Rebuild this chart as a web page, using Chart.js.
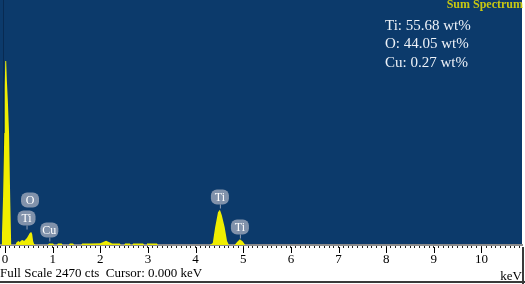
<!DOCTYPE html>
<html>
<head>
<meta charset="utf-8">
<script src="https://cdn.jsdelivr.net/npm/chart.js@4.4.0/dist/chart.umd.min.js"></script>
<style>
html, body { margin: 0; padding: 0; background: #fff; }
#wrap { width: 525px; height: 284px; }
</style>
</head>
<body>
<div id="wrap"><canvas id="chart" width="525" height="284"></canvas></div>
<script>
// spectrum (keV / counts)
var energy = [-0.07, -0.04, -0.015, -0.005, 0.005, 0.025, 0.04, 0.06, 0.085, 0.11, 0.13, 0.22,
    0.24, 0.28, 0.31, 0.34, 0.37, 0.40, 0.43, 0.46, 0.49, 0.52, 0.55, 0.57, 0.59, 0.61, 0.64,
    0.90, 0.92, 1.01, 1.03, 1.09, 1.11, 1.19, 1.21, 1.34, 1.36, 1.43, 1.45, 1.60, 1.62, 1.80,
    2.00, 2.06, 2.12, 2.18, 2.25, 2.41, 2.43, 2.50, 2.52, 2.62, 2.64, 2.67, 2.69, 2.90, 2.92,
    2.96, 2.98, 3.19, 3.21,
    4.30, 4.36, 4.41, 4.47, 4.51, 4.55, 4.61, 4.66, 4.70,
    4.82, 4.87, 4.93, 4.99, 5.04, 10.85];
var counts = [0, 500, 1130, 1600, 1855, 1855, 1650, 1450, 1130, 450, 0, 0,
    25, 40, 30, 45, 50, 40, 55, 70, 95, 120, 130, 110, 40, 10, 0,
    0, 15, 15, 0, 0, 15, 15, 0, 0, 15, 15, 0, 0, 15, 15,
    18, 30, 42, 30, 15, 15, 0, 0, 15, 15, 0, 0, 15, 15, 0,
    0, 15, 15, 0,
    0, 20, 180, 330, 355, 300, 180, 40, 0,
    0, 30, 57, 35, 0, 0];

var fullScale = 2470;
var majorTicks = [0, 1, 2, 3, 4, 5, 6, 7, 8, 9, 10];

// peak markers
var peakNames = ['O', 'Ti', 'Cu', 'Ti', 'Ti'];
var peakEnergy = [0.525, 0.452, 0.93, 4.51, 4.93];
var peakLabelY = [454, 272, 151, 484, 181];

var resultLines = ['Ti: 55.68 wt%', 'O: 44.05 wt%', 'Cu: 0.27 wt%'];

var NAVY = '#0c3a6b';
var YELLOW = '#f0ee00';
var SERIF = '"Liberation Serif", "DejaVu Serif", serif';

var points = energy.map(function (e, i) { return { x: e, y: counts[i] }; });

var backPlugin = {
    id: 'back',
    beforeDraw: function (chart) {
        var ctx = chart.ctx, a = chart.chartArea;
        ctx.save();
        ctx.fillStyle = '#fff';
        ctx.fillRect(0, 0, chart.width, chart.height);
        ctx.fillStyle = NAVY;
        ctx.fillRect(a.left, a.top, a.right - a.left, a.bottom - a.top);
        // dark line near the left edge
        ctx.fillStyle = '#082a52';
        ctx.fillRect(a.left + 3, a.top, 1, a.bottom - a.top);
        ctx.restore();
    }
};

function bubble(ctx, x, y, txt, stem) {
    ctx.fillStyle = 'rgba(150,162,182,0.85)';
    ctx.beginPath();
    ctx.roundRect(x - 9, y - 7.5, 18, 15, 6);
    ctx.fill();
    if (stem) {
        ctx.strokeStyle = 'rgba(160,170,188,0.9)';
        ctx.lineWidth = 1;
        ctx.beginPath();
        ctx.moveTo(x + 0.5, y + 7.5);
        ctx.lineTo(x + 0.5, y + 7.5 + stem);
        ctx.stroke();
    }
    ctx.fillStyle = '#fff';
    ctx.font = '12px ' + SERIF;
    ctx.textAlign = 'center';
    ctx.textBaseline = 'middle';
    ctx.fillText(txt, x, y + 1);
}

var decoPlugin = {
    id: 'deco',
    afterDraw: function (chart) {
        var ctx = chart.ctx, xs = chart.scales.x, ys = chart.scales.y, a = chart.chartArea;
        ctx.save();

        // peak markers
        for (var i = 0; i < peakNames.length; i++) {
            var stem = (peakNames[i] === 'O') ? 0 : 4;
            bubble(ctx, xs.getPixelForValue(peakEnergy[i]), ys.getPixelForValue(peakLabelY[i]), peakNames[i], stem);
        }

        // long ticks on whole keV
        ctx.strokeStyle = '#000';
        ctx.lineWidth = 1;
        majorTicks.forEach(function (v) {
            var px = Math.round(xs.getPixelForValue(v)) + 0.5;
            ctx.beginPath();
            ctx.moveTo(px, a.bottom + 2);
            ctx.lineTo(px, a.bottom + 8);
            ctx.stroke();
        });

        // texts
        ctx.textBaseline = 'alphabetic';
        ctx.textAlign = 'right';
        ctx.fillStyle = '#c9c812';
        ctx.font = 'bold 12px ' + SERIF;
        ctx.fillText('Sum Spectrum', 523, 8);

        ctx.textAlign = 'left';
        ctx.fillStyle = '#eef2f8';
        ctx.font = '15px ' + SERIF;
        resultLines.forEach(function (t, k) {
            ctx.fillText(t, 385, 30 + k * 18.3);
        });

        ctx.fillStyle = '#000';
        ctx.font = '13px ' + SERIF;
        ctx.fillText('Full Scale ' + fullScale + ' cts  Cursor: 0.000 keV', 0, 277);
        ctx.textAlign = 'right';
        ctx.fillText('keV', 522, 280);

        // frame
        ctx.fillStyle = '#3a3a3a';
        ctx.fillRect(0, 281, chart.width, 2);
        ctx.fillRect(522, a.bottom + 2, 2, chart.height - a.bottom);
        ctx.restore();
    }
};

new Chart(document.getElementById('chart'), {
    type: 'line',
    data: {
        datasets: [{
            data: points,
            borderColor: 'rgba(0,0,0,0)',
            backgroundColor: YELLOW,
            fill: 'origin',
            pointRadius: 0,
            tension: 0
        }]
    },
    options: {
        responsive: false,
        animation: false,
        events: [],
        layout: { padding: { left: 0, right: 3, top: 0, bottom: 0 } },
        plugins: { legend: { display: false }, tooltip: { enabled: false } },
        scales: {
            x: {
                type: 'linear',
                min: -0.105,
                max: 10.85,
                afterFit: function (scale) {
                    scale.height = 39;
                    scale.paddingLeft = 0;
                    scale.paddingRight = 0;
                },
                border: { display: true, color: '#8c8c8c', width: 2 },
                grid: { display: true, drawOnChartArea: false, tickLength: 3, tickColor: '#222', tickWidth: 1 },
                ticks: {
                    stepSize: 0.1,
                    includeBounds: false,
                    autoSkip: false,
                    maxRotation: 0,
                    minRotation: 0,
                    padding: 4,
                    color: '#000',
                    font: { family: SERIF, size: 13 },
                    callback: function (v) {
                        var r = Math.round(v);
                        return Math.abs(v - r) < 1e-6 ? String(r) : '';
                    }
                }
            },
            y: {
                display: false,
                min: 0,
                max: fullScale
            }
        }
    },
    plugins: [backPlugin, decoPlugin]
});
</script>
</body>
</html>
